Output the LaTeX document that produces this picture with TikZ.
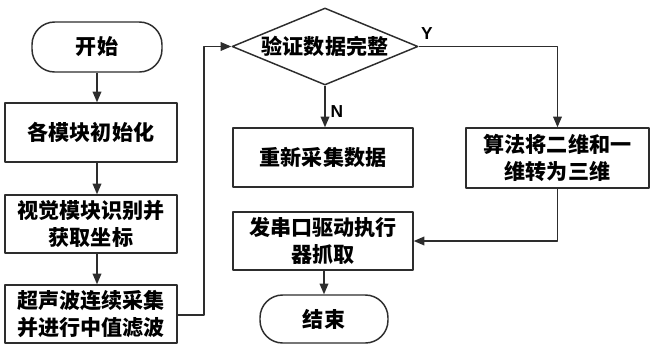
\documentclass[tikz,border=0pt]{standalone}
\usepackage{fontspec}
\newfontfamily\cjk{Noto Sans CJK SC}
\setsansfont{Liberation Sans}
\usetikzlibrary{arrows.meta,shapes.geometric}

\begin{document}
\begin{tikzpicture}[x=0.75pt,y=-0.75pt,>={Triangle[length=8pt,width=6.5pt]},line join=round]

% Colors
\definecolor{linegray}{RGB}{45,45,45}

% Styles
\tikzset{
  flowbox/.style={draw=linegray,line width=1.1pt,align=center,inner sep=1pt,
    font=\cjk\bfseries\fontsize{15.8}{20}\selectfont},
  termbox/.style={flowbox,rounded corners=17pt},
  checkbox/.style={flowbox,shape=diamond,aspect=2.4,inner sep=0pt},
  flowline/.style={draw=linegray,line width=1.1pt},
  yesno/.style={font=\sffamily\bfseries\fontsize{13}{13}\selectfont}
}

% Fix the page size
\useasboundingbox (0,0) rectangle (654,351);

% Left column
\node[termbox,minimum width=97.5pt,minimum height=37.5pt] (start) at (97,47) {开始};
\node[flowbox,minimum width=129pt,minimum height=44.25pt] (init) at (91,132.5) {各模块初始化};
\node[flowbox,minimum width=129pt,minimum height=43.5pt] (vision) at (91,224) {视觉模块识别并\\获取坐标};
\node[flowbox,minimum width=129pt,minimum height=43.5pt] (ultra) at (91,314) {超声波连续采集\\并进行中值滤波};

% Middle column
\node[checkbox,minimum width=139.5pt,minimum height=57.75pt] (check) at (325,46.5) {验证数据完整};
\node[flowbox,minimum width=135pt,minimum height=44.25pt] (recollect) at (323,157.5) {重新采集数据};
\node[flowbox,minimum width=135pt,minimum height=43.5pt] (send) at (323,241) {发串口驱动执行\\器抓取};
\node[termbox,minimum width=96pt,minimum height=36pt] (end) at (324,319) {结束};

% Right column
\node[flowbox,minimum width=137.25pt,minimum height=45pt] (algo) at (557.5,158) {算法将二维和一\\维转为三维};

% Loop-back corner
\coordinate (loop) at (204,315);

% Connectors down the left column
\draw[flowline,->] (start.south) -- (start.south |- init.north);
\draw[flowline,->] (start.south |- init.south) -- (start.south |- vision.north);
\draw[flowline,->] (start.south |- vision.south) -- (start.south |- ultra.north);

% Ultrasonic data to the check
\draw[flowline,->] (ultra.east |- loop) -- (loop) |- (check.west);

% No branch
\draw[flowline,->] (check.south) -- (check.south |- recollect.north);
\node[yesno] (nlabel) at (337,112) {N};

% Yes branch
\draw[flowline,->] (check.east) -| (algo.north);
\node[yesno] (ylabel) at (427,34) {Y};

% Algorithm to actuator
\draw[flowline,->] (algo.south) |- (send.east);

% Actuator to end
\draw[flowline,->] (send.south -| end.north) -- (end.north);

\end{tikzpicture}
\end{document}
